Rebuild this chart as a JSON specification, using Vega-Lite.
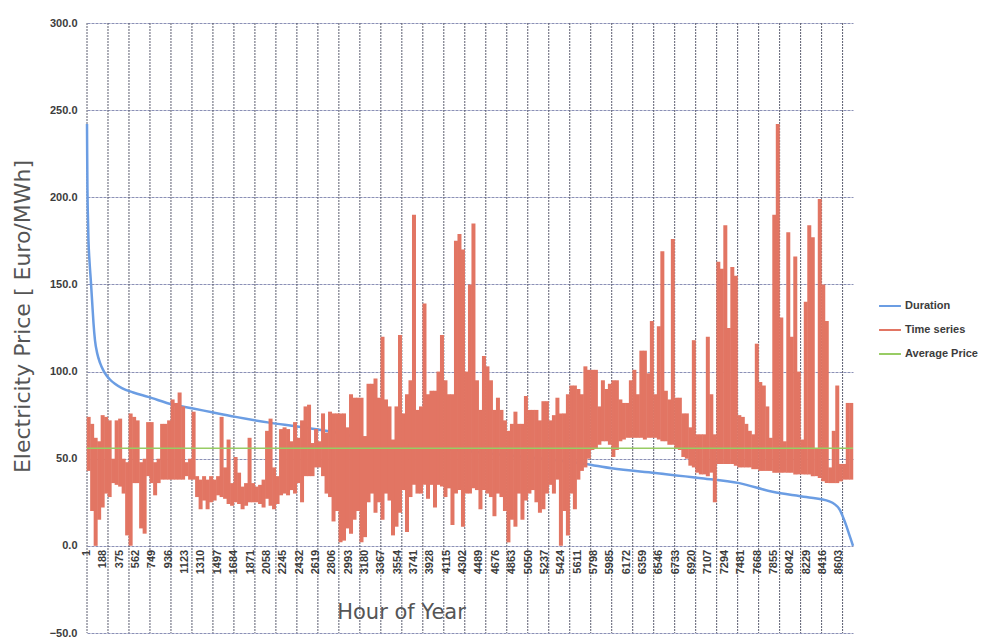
{
  "$schema": "https://vega.github.io/schema/vega-lite/v6.json",
  "width": 766,
  "height": 610,
  "autosize": {"type": "none"},
  "padding": {"left": 87, "top": 23, "right": 129, "bottom": 9},
  "background": "white",
  "config": {"view": {"stroke": null}, "font": "Liberation Sans"},
  "datasets": {
    "vgrid": [{"h":1},{"h":241},{"h":481},{"h":721},{"h":961},{"h":1201},{"h":1441},{"h":1681},{"h":1921},{"h":2161},{"h":2401},{"h":2641},{"h":2881},{"h":3121},{"h":3361},{"h":3601},{"h":3841},{"h":4081},{"h":4321},{"h":4561},{"h":4801},{"h":5041},{"h":5281},{"h":5521},{"h":5761},{"h":6001},{"h":6241},{"h":6481},{"h":6721},{"h":6961},{"h":7201},{"h":7441},{"h":7681},{"h":7921},{"h":8161},{"h":8401},{"h":8641}],
    "xlabels": [{"h":1},{"h":188},{"h":375},{"h":562},{"h":749},{"h":936},{"h":1123},{"h":1310},{"h":1497},{"h":1684},{"h":1871},{"h":2058},{"h":2245},{"h":2432},{"h":2619},{"h":2806},{"h":2993},{"h":3180},{"h":3367},{"h":3554},{"h":3741},{"h":3928},{"h":4115},{"h":4302},{"h":4489},{"h":4676},{"h":4863},{"h":5050},{"h":5237},{"h":5424},{"h":5611},{"h":5798},{"h":5985},{"h":6172},{"h":6359},{"h":6546},{"h":6733},{"h":6920},{"h":7107},{"h":7294},{"h":7481},{"h":7668},{"h":7855},{"h":8042},{"h":8229},{"h":8416},{"h":8603}],
    "duration": [{"h":1,"p":242},{"h":3,"p":225},{"h":6,"p":205},{"h":10,"p":192},{"h":18,"p":175},{"h":30,"p":163},{"h":45,"p":152},{"h":60,"p":140},{"h":75,"p":128},{"h":92,"p":118},{"h":120,"p":110},{"h":150,"p":105},{"h":185,"p":101},{"h":220,"p":98},{"h":260,"p":95.6},{"h":320,"p":93},{"h":400,"p":90.5},{"h":530,"p":88},{"h":700,"p":85.5},{"h":988,"p":81},{"h":1200,"p":79},{"h":1445,"p":76.5},{"h":1700,"p":74},{"h":2085,"p":70.7},{"h":2400,"p":68.5},{"h":2850,"p":65},{"h":3100,"p":62},{"h":3478,"p":58.8},{"h":4000,"p":56},{"h":4500,"p":53.5},{"h":5000,"p":51},{"h":5400,"p":49},{"h":5700,"p":47},{"h":6000,"p":44.5},{"h":6500,"p":41.8},{"h":7000,"p":39},{"h":7460,"p":36},{"h":7840,"p":31},{"h":8225,"p":28},{"h":8490,"p":25.5},{"h":8605,"p":21},{"h":8650,"p":16},{"h":8680,"p":12},{"h":8720,"p":6},{"h":8760,"p":0}],
    "avg": [{"h":1,"p":56},{"h":8760,"p":56}],
    "series": [
      {"h":20,"lo":43,"hi":74},{"h":60,"lo":20,"hi":70},{"h":100,"lo":0,"hi":62},{"h":140,"lo":15,"hi":60},{"h":180,"lo":22,"hi":75},{"h":220,"lo":30,"hi":74},{"h":260,"lo":28,"hi":72},{"h":300,"lo":36,"hi":50},{"h":340,"lo":35,"hi":72},{"h":380,"lo":34,"hi":73},{"h":420,"lo":30,"hi":50},{"h":460,"lo":6,"hi":48},{"h":500,"lo":0,"hi":76},{"h":540,"lo":36,"hi":74},{"h":580,"lo":36,"hi":72},{"h":620,"lo":10,"hi":48},{"h":660,"lo":7,"hi":50},{"h":700,"lo":40,"hi":71},{"h":740,"lo":36,"hi":71},{"h":780,"lo":29,"hi":48},{"h":820,"lo":36,"hi":50},{"h":860,"lo":38,"hi":70},{"h":900,"lo":38,"hi":70},{"h":940,"lo":38,"hi":72},{"h":980,"lo":38,"hi":84},{"h":1020,"lo":38,"hi":82},{"h":1060,"lo":38,"hi":88},{"h":1100,"lo":38,"hi":80},{"h":1140,"lo":40,"hi":48},{"h":1180,"lo":38,"hi":50},{"h":1220,"lo":38,"hi":77},{"h":1260,"lo":28,"hi":40},{"h":1300,"lo":21,"hi":38},{"h":1340,"lo":26,"hi":40},{"h":1380,"lo":21,"hi":38},{"h":1420,"lo":25,"hi":40},{"h":1460,"lo":26,"hi":38},
      {"h":1500,"lo":29,"hi":40},{"h":1540,"lo":28,"hi":74},{"h":1580,"lo":27,"hi":45},{"h":1620,"lo":24,"hi":61},{"h":1660,"lo":23,"hi":36},{"h":1700,"lo":25,"hi":51},{"h":1740,"lo":24,"hi":42},{"h":1780,"lo":21,"hi":34},{"h":1820,"lo":23,"hi":36},{"h":1860,"lo":25,"hi":62},{"h":1900,"lo":25,"hi":36},{"h":1940,"lo":25,"hi":34},{"h":1980,"lo":24,"hi":35},{"h":2020,"lo":22,"hi":38},{"h":2060,"lo":27,"hi":66},{"h":2100,"lo":23,"hi":73},{"h":2140,"lo":21,"hi":45},{"h":2180,"lo":24,"hi":40},{"h":2220,"lo":29,"hi":67},{"h":2260,"lo":30,"hi":68},{"h":2300,"lo":29,"hi":67},{"h":2340,"lo":32,"hi":60},{"h":2380,"lo":30,"hi":71},{"h":2420,"lo":36,"hi":62},{"h":2460,"lo":25,"hi":72},{"h":2500,"lo":40,"hi":80},{"h":2540,"lo":40,"hi":81},{"h":2580,"lo":40,"hi":59},{"h":2620,"lo":45,"hi":67},{"h":2660,"lo":45,"hi":60},{"h":2700,"lo":40,"hi":76},{"h":2740,"lo":30,"hi":65},{"h":2780,"lo":28,"hi":77},{"h":2820,"lo":14,"hi":76},{"h":2860,"lo":20,"hi":76},{"h":2900,"lo":2,"hi":76},
      {"h":2940,"lo":3,"hi":76},{"h":2980,"lo":10,"hi":68},{"h":3020,"lo":7,"hi":87},{"h":3060,"lo":15,"hi":85},{"h":3100,"lo":20,"hi":85},{"h":3140,"lo":2,"hi":85},{"h":3180,"lo":5,"hi":63},{"h":3220,"lo":25,"hi":93},{"h":3260,"lo":30,"hi":93},{"h":3300,"lo":19,"hi":96},{"h":3340,"lo":25,"hi":85},{"h":3380,"lo":15,"hi":120},{"h":3420,"lo":30,"hi":84},{"h":3460,"lo":26,"hi":80},{"h":3500,"lo":6,"hi":61},{"h":3540,"lo":11,"hi":80},{"h":3580,"lo":19,"hi":121},{"h":3620,"lo":32,"hi":76},{"h":3660,"lo":8,"hi":87},{"h":3700,"lo":28,"hi":95},{"h":3740,"lo":35,"hi":190},{"h":3780,"lo":30,"hi":78},{"h":3820,"lo":30,"hi":80},{"h":3860,"lo":35,"hi":139},{"h":3900,"lo":27,"hi":87},{"h":3940,"lo":35,"hi":89},{"h":3980,"lo":22,"hi":89},{"h":4020,"lo":35,"hi":100},{"h":4060,"lo":34,"hi":121},{"h":4100,"lo":28,"hi":95},{"h":4140,"lo":33,"hi":87},{"h":4180,"lo":12,"hi":87},{"h":4220,"lo":30,"hi":175},{"h":4260,"lo":32,"hi":179},{"h":4300,"lo":11,"hi":170},
      {"h":4340,"lo":30,"hi":100},{"h":4380,"lo":30,"hi":150},{"h":4420,"lo":33,"hi":185},{"h":4460,"lo":32,"hi":95},{"h":4500,"lo":21,"hi":78},{"h":4540,"lo":32,"hi":109},{"h":4580,"lo":30,"hi":103},{"h":4620,"lo":28,"hi":95},{"h":4660,"lo":17,"hi":78},{"h":4700,"lo":30,"hi":85},{"h":4740,"lo":28,"hi":78},{"h":4780,"lo":20,"hi":72},{"h":4820,"lo":2,"hi":66},{"h":4860,"lo":15,"hi":70},{"h":4900,"lo":11,"hi":77},{"h":4940,"lo":30,"hi":70},{"h":4980,"lo":15,"hi":70},{"h":5020,"lo":26,"hi":86},{"h":5060,"lo":30,"hi":78},{"h":5100,"lo":32,"hi":78},{"h":5140,"lo":25,"hi":78},{"h":5180,"lo":19,"hi":72},{"h":5220,"lo":21,"hi":83},{"h":5260,"lo":30,"hi":83},{"h":5300,"lo":35,"hi":72},{"h":5340,"lo":30,"hi":75},{"h":5380,"lo":38,"hi":85},{"h":5420,"lo":0,"hi":76},{"h":5460,"lo":20,"hi":76},{"h":5500,"lo":6,"hi":87},{"h":5540,"lo":30,"hi":92},{"h":5580,"lo":21,"hi":92},{"h":5620,"lo":38,"hi":90},{"h":5660,"lo":43,"hi":87},{"h":5700,"lo":45,"hi":103},
      {"h":5740,"lo":50,"hi":101},{"h":5780,"lo":55,"hi":101},{"h":5820,"lo":56,"hi":101},{"h":5860,"lo":58,"hi":80},{"h":5900,"lo":60,"hi":95},{"h":5940,"lo":60,"hi":90},{"h":5980,"lo":58,"hi":93},{"h":6020,"lo":51,"hi":95},{"h":6060,"lo":55,"hi":95},{"h":6100,"lo":60,"hi":84},{"h":6140,"lo":61,"hi":82},{"h":6180,"lo":62,"hi":82},{"h":6220,"lo":62,"hi":95},{"h":6260,"lo":62,"hi":101},{"h":6300,"lo":62,"hi":87},{"h":6340,"lo":62,"hi":112},{"h":6380,"lo":61,"hi":112},{"h":6420,"lo":62,"hi":99},{"h":6460,"lo":62,"hi":129},{"h":6500,"lo":62,"hi":87},{"h":6540,"lo":61,"hi":126},{"h":6580,"lo":60,"hi":169},{"h":6620,"lo":60,"hi":89},{"h":6660,"lo":58,"hi":84},{"h":6700,"lo":58,"hi":176},{"h":6740,"lo":56,"hi":85},{"h":6780,"lo":55,"hi":85},{"h":6820,"lo":51,"hi":76},{"h":6860,"lo":50,"hi":76},{"h":6900,"lo":46,"hi":68},{"h":6940,"lo":45,"hi":118},{"h":6980,"lo":42,"hi":64},{"h":7020,"lo":41,"hi":64},{"h":7060,"lo":41,"hi":64},
      {"h":7100,"lo":40,"hi":120},{"h":7140,"lo":42,"hi":87},{"h":7180,"lo":25,"hi":64},{"h":7220,"lo":47,"hi":163},{"h":7260,"lo":47,"hi":159},{"h":7300,"lo":47,"hi":184},{"h":7340,"lo":47,"hi":125},{"h":7380,"lo":47,"hi":160},{"h":7420,"lo":46,"hi":155},{"h":7460,"lo":45,"hi":75},{"h":7500,"lo":45,"hi":74},{"h":7540,"lo":45,"hi":70},{"h":7580,"lo":45,"hi":66},{"h":7620,"lo":44,"hi":64},{"h":7660,"lo":44,"hi":116},{"h":7700,"lo":43,"hi":94},{"h":7740,"lo":43,"hi":92},{"h":7780,"lo":43,"hi":80},{"h":7820,"lo":43,"hi":62},{"h":7860,"lo":42,"hi":190},{"h":7900,"lo":42,"hi":242},{"h":7940,"lo":42,"hi":131},{"h":7980,"lo":42,"hi":60},{"h":8020,"lo":42,"hi":180},{"h":8060,"lo":42,"hi":120},{"h":8100,"lo":41,"hi":166},{"h":8140,"lo":41,"hi":100},{"h":8180,"lo":41,"hi":61},{"h":8220,"lo":41,"hi":140},{"h":8260,"lo":41,"hi":184},{"h":8300,"lo":40,"hi":177},{"h":8340,"lo":40,"hi":56},{"h":8380,"lo":39,"hi":199},{"h":8420,"lo":37,"hi":150},{"h":8460,"lo":36,"hi":129},{"h":8500,"lo":36,"hi":45},{"h":8540,"lo":36,"hi":66},{"h":8580,"lo":36,"hi":92},{"h":8620,"lo":37,"hi":47},{"h":8660,"lo":38,"hi":47},{"h":8700,"lo":38,"hi":82},{"h":8740,"lo":38,"hi":82}
    ]
  },
  "layer": [
    {
      "data": {"name": "vgrid"},
      "mark": {"type": "rule", "stroke": "#5c5e70", "strokeWidth": 1, "strokeDash": [2, 1]},
      "encoding": {
        "x": {
          "field": "h", "type": "quantitative",
          "scale": {"domain": [1, 8760], "nice": false, "zero": false},
          "axis": {
            "values": [1], "labels": false,
            "ticks": false, "tickSize": 0, "domain": false, "grid": false, "offset": -87,
            "title": "Hour of Year", "titleFont": "DejaVu Sans", "titleFontSize": 21, "titleFontWeight": "normal",
            "titleColor": "#555555", "titleX": 314, "titleY": 66, "titleAlign": "center", "titleBaseline": "middle"
          }
        }
      }
    },
    {
      "data": {"name": "xlabels"},
      "mark": {"type": "text", "angle": 270, "align": "right", "baseline": "middle", "dx": -4, "font": "Liberation Sans", "fontWeight": "bold", "fontSize": 11, "color": "#3c3c3c"},
      "encoding": {
        "x": {"field": "h", "type": "quantitative"},
        "y": {"datum": 0, "type": "quantitative"},
        "text": {"field": "h", "type": "quantitative", "format": "d"}
      }
    },
    {
      "data": {"name": "duration"},
      "mark": {"type": "line", "strokeWidth": 2.5, "interpolate": "monotone"},
      "encoding": {
        "x": {"field": "h", "type": "quantitative"},
        "y": {
          "field": "p", "type": "quantitative",
          "scale": {"domain": [-50, 300], "nice": false, "zero": false},
          "axis": {
            "values": [-50,0,50,100,150,200,250,300], "format": ".1f",
            "labelFont": "Liberation Sans", "labelFontWeight": "bold", "labelFontSize": 11, "labelColor": "#3c3c3c",
            "labelPadding": 10, "ticks": false, "tickSize": 0, "domain": false,
            "grid": true, "gridColor": "#8b90b6", "gridDash": [3, 1], "gridWidth": 1,
            "title": "Electricity Price [ Euro/MWh]", "titleFont": "DejaVu Sans", "titleFontSize": 22, "titleFontWeight": "normal",
            "titleColor": "#555555", "titleX": -65, "titleY": 293, "titleAngle": -90, "titleAlign": "center", "titleBaseline": "middle"
          }
        },
        "color": {
          "datum": "Duration", "type": "nominal",
          "scale": {"domain": ["Duration", "Time series", "Average Price"], "range": ["#6b9de3", "#e27563", "#98cc64"]},
          "legend": {
            "orient": "none", "legendX": 791, "legendY": 271, "title": null,
            "symbolType": "stroke", "symbolSize": 480, "symbolStrokeWidth": 2,
            "labelFont": "Liberation Sans", "labelFontSize": 11, "labelFontWeight": "bold", "labelColor": "#3c3c3c",
            "labelOffset": 3, "rowPadding": 7, "padding": 0
          }
        }
      }
    },
    {
      "data": {"name": "series"},
      "mark": {"type": "rule", "strokeWidth": 4, "strokeCap": "butt"},
      "encoding": {
        "x": {"field": "h", "type": "quantitative"},
        "y": {"field": "lo", "type": "quantitative"},
        "y2": {"field": "hi"},
        "color": {"datum": "Time series", "type": "nominal"}
      }
    },
    {
      "data": {"name": "avg"},
      "mark": {"type": "line", "strokeWidth": 1.5},
      "encoding": {
        "x": {"field": "h", "type": "quantitative"},
        "y": {"field": "p", "type": "quantitative"},
        "color": {"datum": "Average Price", "type": "nominal"}
      }
    }
  ]
}
